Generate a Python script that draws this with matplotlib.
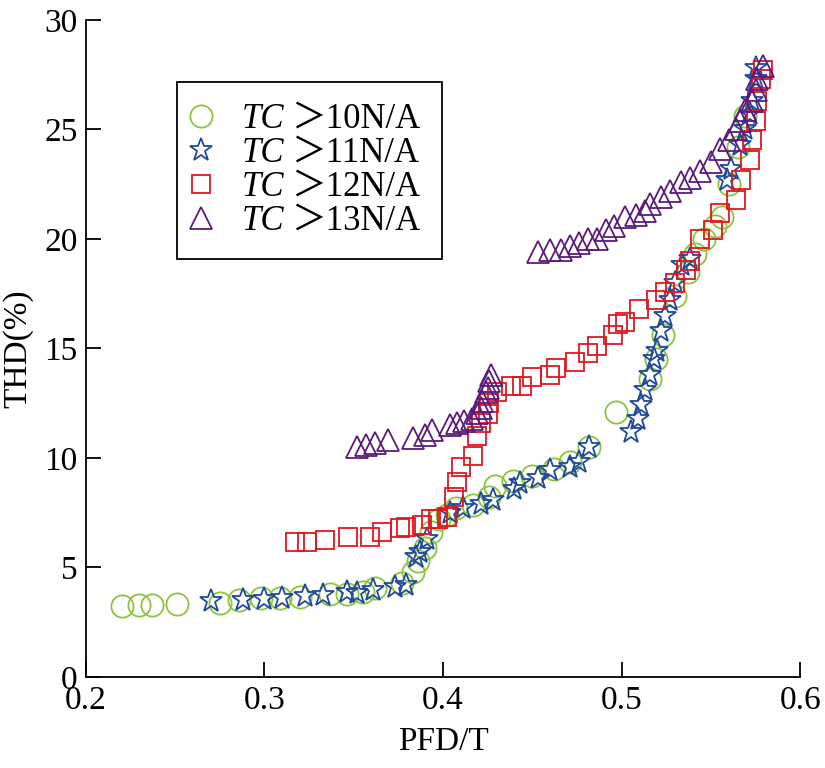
import numpy as np
import matplotlib
matplotlib.use('Agg')
import matplotlib.pyplot as plt
from matplotlib.transforms import IdentityTransform

plt.rcParams['font.family'] = ['Liberation Serif', 'DejaVu Serif']

# TC > 10 N/A (circles)
x10 = [0.220, 0.230, 0.237, 0.251, 0.275, 0.286, 0.298, 0.309, 0.320, 0.337, 0.346, 0.355,
       0.362, 0.377, 0.383, 0.386, 0.390, 0.393, 0.398, 0.402, 0.407, 0.417, 0.426, 0.429,
       0.439, 0.450, 0.462, 0.471, 0.482, 0.497, 0.516, 0.519, 0.523, 0.530, 0.537, 0.541,
       0.546, 0.552, 0.556, 0.560, 0.565, 0.569]
y10 = [3.25, 3.3, 3.3, 3.35, 3.4, 3.5, 3.6, 3.6, 3.65, 3.8, 3.8, 3.9,
       4.05, 4.3, 4.8, 5.3, 5.9, 6.6, 7.2, 7.4, 7.7, 7.85, 8.2, 8.7,
       8.95, 9.2, 9.5, 9.8, 10.5, 12.1, 13.6, 14.5, 15.6, 17.4, 18.5, 19.3,
       20.0, 20.6, 21.0, 22.5, 24.2, 25.6]

# TC > 11 N/A (stars)
x11 = [0.270, 0.288, 0.300, 0.310, 0.323, 0.333, 0.346, 0.352, 0.361, 0.373, 0.379,
       0.385, 0.387, 0.391, 0.404, 0.411, 0.421, 0.428, 0.440, 0.443, 0.453, 0.460,
       0.471, 0.476, 0.482, 0.505, 0.509, 0.511, 0.513, 0.516, 0.518, 0.520, 0.522,
       0.524, 0.527, 0.530, 0.534, 0.538, 0.559, 0.561, 0.566, 0.569, 0.572, 0.573,
       0.575, 0.575]
y11 = [3.45, 3.5, 3.55, 3.6, 3.7, 3.75, 3.9, 3.85, 3.95, 4.1, 4.2,
       5.5, 5.7, 6.3, 7.5, 7.7, 7.9, 8.1, 8.6, 8.85, 9.1, 9.45,
       9.6, 9.8, 10.5, 11.2, 11.8, 12.4, 13.1, 13.8, 14.5, 14.9, 15.8,
       16.5, 17.2, 18.0, 18.8, 19.1, 22.7, 23.2, 24.3, 25.0, 25.7, 26.3,
       27.3, 27.8]

# TC > 12 N/A (squares)
x12 = [0.317, 0.324, 0.334, 0.347, 0.359, 0.366, 0.376, 0.379, 0.388, 0.393, 0.397,
       0.402, 0.406, 0.408, 0.410, 0.417, 0.419, 0.421, 0.425, 0.426, 0.430, 0.438,
       0.444, 0.450, 0.460, 0.463, 0.474, 0.481, 0.486, 0.495, 0.498, 0.502, 0.510,
       0.519, 0.524, 0.530, 0.536, 0.538, 0.544, 0.551, 0.555, 0.564, 0.567, 0.572,
       0.573, 0.575, 0.576, 0.578, 0.579]
y12 = [6.15, 6.15, 6.25, 6.4, 6.4, 6.6, 6.8, 6.85, 6.95, 7.2, 7.2,
       7.3, 8.2, 8.9, 9.6, 10.1, 11.0, 11.6, 12.0, 12.5, 13.0, 13.3,
       13.3, 13.7, 13.8, 14.1, 14.4, 14.8, 15.1, 15.6, 16.1, 16.2, 16.8,
       17.2, 17.6, 18.0, 18.6, 19.0, 20.0, 20.4, 21.2, 21.8, 22.7, 23.6,
       24.5, 25.4, 26.3, 27.3, 27.7]

# TC > 13 N/A (triangles)
x13 = [0.352, 0.357, 0.362, 0.369, 0.383, 0.390, 0.394, 0.404, 0.408, 0.412, 0.416,
       0.419, 0.421, 0.422, 0.424, 0.425, 0.426, 0.427,
       0.453, 0.460, 0.466, 0.471, 0.476, 0.481, 0.486, 0.491, 0.496, 0.502, 0.508,
       0.513, 0.516, 0.522, 0.527, 0.533, 0.538, 0.544, 0.550, 0.555, 0.560, 0.564,
       0.566, 0.569, 0.573, 0.575, 0.576, 0.579]
y13 = [10.5, 10.6, 10.7, 10.8, 10.9, 11.05, 11.3, 11.5, 11.6, 11.7, 11.8,
       12.05, 12.3, 12.6, 13.0, 13.2, 13.5, 13.8,
       19.4, 19.5, 19.5, 19.7, 19.8, 20.0, 20.0, 20.4, 20.6, 21.0, 21.1,
       21.3, 21.6, 21.9, 22.2, 22.6, 22.8, 23.1, 23.5, 24.1, 24.5, 25.0,
       25.4, 25.9, 26.3, 26.8, 27.3, 27.9]

# legend: italic "TC" is drawn separately in front of each label
label_prefix = 'TC'
labels = ['＞10N/A', '＞11N/A', '＞12N/A', '＞13N/A']

fig = plt.figure(figsize=(8.25, 7.68), dpi=100)
ax = fig.add_axes([0.104, 0.1185, 0.866, 0.8555])

ax.plot(x10, y10, 'o', ms=16, mfc='none', mec='#8cc43c', mew=1.3, ls='none', label=labels[0])
ax.plot(x11, y11, '*', ms=17, mfc='none', mec='#1f4a9c', mew=1.3, ls='none', label=labels[1])
ax.plot(x12, y12, 's', ms=13, mfc='none', mec='#e0161e', mew=1.3, ls='none', label=labels[2])
ax.plot(x13, y13, '^', ms=16, mfc='none', mec='#5c1a7c', mew=1.3, ls='none', label=labels[3])

ax.set_xlim(0.2, 0.6)
ax.set_ylim(0, 30)
ax.set_xticks([0.2, 0.3, 0.4, 0.5, 0.6])
ax.set_xticklabels(['0.2', '0.3', '0.4', '0.5', '0.6'])
ax.set_yticks([0, 5, 10, 15, 20, 25, 30])
ax.spines['top'].set_visible(False)
ax.spines['right'].set_visible(False)
ax.spines['left'].set_linewidth(1.3)
ax.spines['bottom'].set_linewidth(1.3)
ax.tick_params(direction='in', length=11, width=1.3, labelsize=24, pad=6)
ax.set_xlabel('PFD/T', fontsize=24, labelpad=8)
ax.set_ylabel('THD(%)', fontsize=24, labelpad=8)

leg = ax.legend(loc='upper left', bbox_to_anchor=(0.1275, 0.9056), borderaxespad=0,
                prop={'family': ['Liberation Serif', 'Noto Sans CJK SC'], 'size': 25},
                frameon=True, fancybox=False, edgecolor='black', framealpha=1,
                handletextpad=2.5, labelspacing=0.03, borderpad=0.6, handlelength=0.2)
leg.get_frame().set_linewidth(1.3)

fig.canvas.draw()
for t in leg.get_texts():
    px, py = t.get_transform().transform(t.get_position())
    fig.text(px - 7, py, label_prefix, transform=IdentityTransform(), ha='right',
             va=t.get_va(), fontsize=25, fontstyle='italic', family='Liberation Serif',
             zorder=10)

fig.savefig('out.png', dpi=100)
